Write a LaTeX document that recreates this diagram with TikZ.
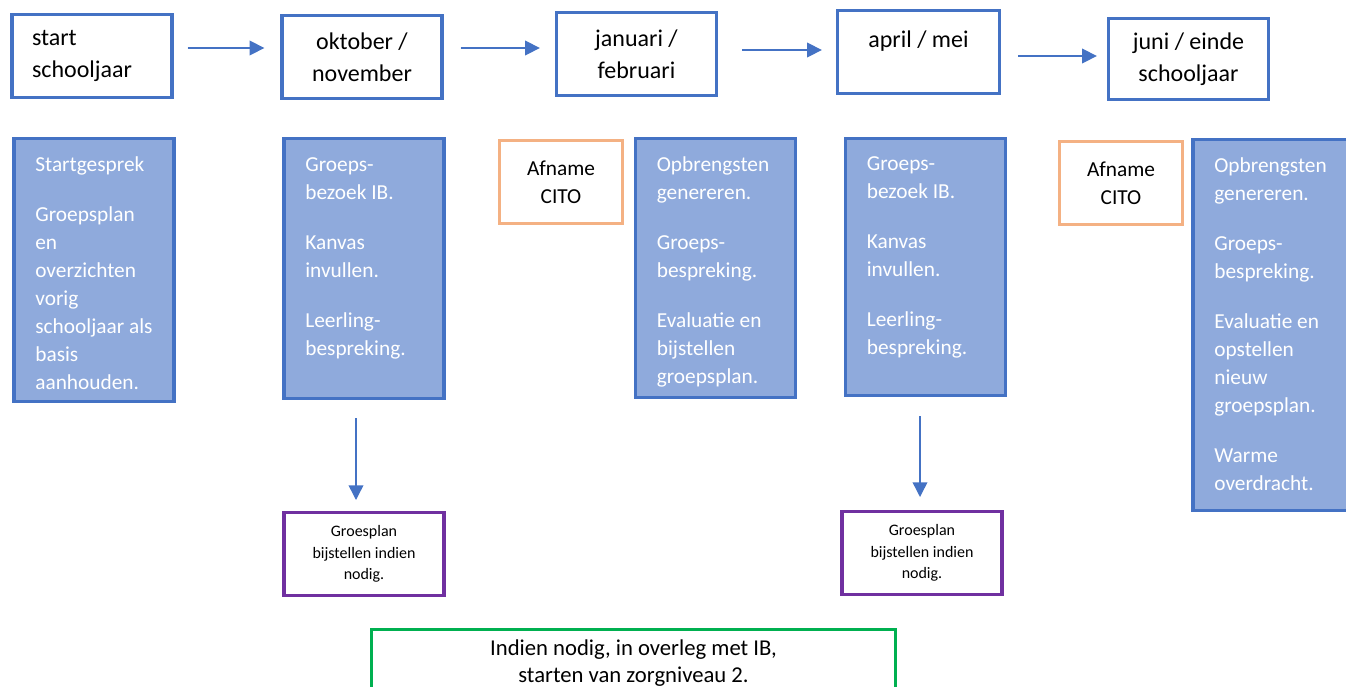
\documentclass[tikz,border=0pt]{standalone}
\usepackage{fontspec}
\setmainfont{Carlito}
\usetikzlibrary{arrows.meta}

\definecolor{kaderblauw}{HTML}{4472C4}
\definecolor{vulblauw}{HTML}{8FAADC}
\definecolor{oranje}{HTML}{F4B183}
\definecolor{paars}{HTML}{7030A0}
\definecolor{groen}{HTML}{00B050}

% text in the filled blue columns
\newcommand{\kolom}[2]{\parbox[t][#1][t]{88pt}{\raggedright\vspace*{2.25pt}\strut #2}}

\tikzset{
  periode/.style={shape=rectangle, draw=kaderblauw, line width=2.5pt, fill=white,
    minimum width=120pt, minimum height=62pt, align=center,
    font=\fontsize{18}{24}\selectfont},
  vak/.style={shape=rectangle, draw=kaderblauw, line width=2.5pt, fill=vulblauw,
    text=white, inner xsep=16pt, inner ysep=7.5pt,
    font=\fontsize{16}{21}\selectfont},
  toets/.style={shape=rectangle, draw=oranje, line width=2.5pt, fill=white,
    minimum width=92pt, minimum height=62pt, align=center,
    font=\fontsize{16}{21}\selectfont},
  bijstel/.style={shape=rectangle, draw=paars, line width=2.5pt, fill=white,
    minimum width=120pt, minimum height=62pt, align=center,
    font=\fontsize{12}{16}\selectfont},
  overleg/.style={shape=rectangle, draw=groen, line width=2.5pt, fill=white,
    minimum width=393pt, minimum height=48pt, align=center,
    font=\fontsize{17}{20}\selectfont},
  pijl/.style={-{Triangle[length=11pt,width=11pt]}, draw=kaderblauw,
    fill=kaderblauw, line width=1.1pt}
}

\begin{document}
\begin{tikzpicture}[x=0.75pt, y=-0.75pt]

    \useasboundingbox (0,0) rectangle (1346,686);
    \clip (0,0) rectangle (1346,686);

    % top row: periods
    \node[periode, text width=90pt, align=left] (start) at (92, 56)  {start\\schooljaar};
    \node[periode] (okt)  at (362, 57)   {oktober /\\november};
    \node[periode] (jan)  at (636.5, 54) {januari /\\februari};
    \node[periode, minimum width=121.5pt, text height=12pt, text depth=19pt] (apr) at (918.5, 52) {april / mei};
    \node[periode, minimum height=61pt] (juni) at (1188.5, 59) {juni / einde\\schooljaar};

    \draw[pijl] ([shift={(14,-8)}]start.east) -- ([shift={(-16,-9)}]okt.west);
    \draw[pijl] ([shift={(17,-9)}]okt.east) -- ([shift={(-15,-6)}]jan.west);
    \draw[pijl] ([shift={(24,-4)}]jan.east) -- ([shift={(-14,-2)}]apr.west);
    \draw[pijl] ([shift={(17,4)}]apr.east) -- ([shift={(-10,-3)}]juni.west);

    % activities
    \node[vak] (b1) at (94, 270) {\kolom{182pt}{Startgesprek\\[16.5pt]
      Groepsplan\\en\\overzichten\\vorig\\schooljaar~als\\basis\\aanhouden.}};
    \node[vak] (b2) at (364, 268.5) {\kolom{180pt}{Groeps-\\bezoek~IB.\\[16.5pt]
      Kanvas\\invullen.\\[16.5pt]Leerling-\\bespreking.}};
    \node[toets] (cito1) at (561, 182) {Afname\\CITO};
    \node[vak] (b3) at (715.5, 268) {\kolom{179pt}{Opbrengsten\\genereren.\\[16.5pt]
      Groeps-\\bespreking.\\[16.5pt]Evaluatie~en\\bijstellen\\groepsplan.}};
    \node[vak] (b4) at (925.5, 267) {\kolom{178pt}{Groeps-\\bezoek~IB.\\[16.5pt]
      Kanvas\\invullen.\\[16.5pt]Leerling-\\bespreking.}};
    \node[toets] (cito2) at (1121, 183) {Afname\\CITO};
    \node[vak] (b5) at (1273, 325) {\kolom{263pt}{Opbrengsten\\genereren.\\[16.5pt]
      Groeps-\\bespreking.\\[16.5pt]Evaluatie~en\\opstellen\\nieuw\\groepsplan.\\[16.5pt]
      Warme\\overdracht.}};

    % adjusting the plan
    \node[bijstel] (p1) at (364, 554) {Groesplan\\bijstellen indien\\nodig.};
    \node[bijstel] (p2) at (922, 553) {Groesplan\\bijstellen indien\\nodig.};

    \draw[pijl] ([shift={(-8,18)}]b2.south) -- ([shift={(-8,-11)}]p1.north);
    \draw[pijl] ([shift={(-5.5,19)}]b4.south) -- ([shift={(-2,-13)}]p2.north);

    \node[overleg] (zorg) at (633.5, 661.5) {\rule{0pt}{14.5pt}Indien nodig, in overleg met IB,\\starten van zorgniveau 2.};

\end{tikzpicture}
\end{document}
